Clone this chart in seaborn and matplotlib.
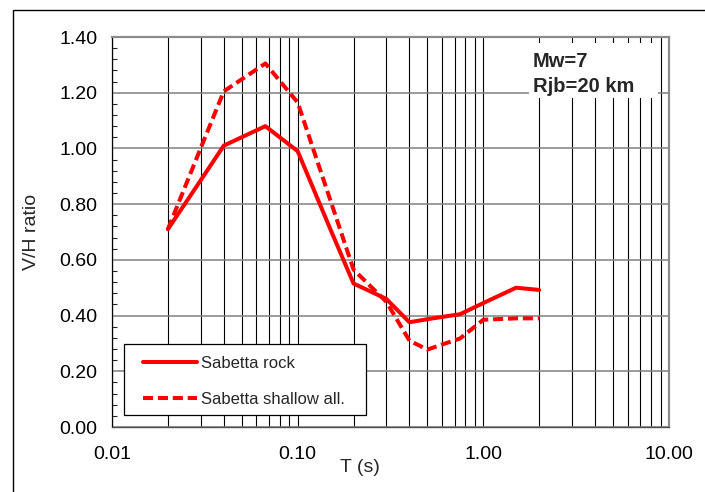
import numpy as np
import pandas as pd
import matplotlib
matplotlib.use("Agg")
import matplotlib.pyplot as plt
import matplotlib.ticker as mticker
from matplotlib.patches import Rectangle
import seaborn as sns

# Spectral periods (s) and V/H ratios for the two Sabetta models
periods = [0.02, 0.03, 0.04, 0.067, 0.1, 0.15, 0.2, 0.3, 0.4, 0.5, 0.75, 1.0, 1.5, 2.0]
vh_rock = [0.71, 0.885, 1.01, 1.08, 0.99, 0.71, 0.515, 0.46, 0.376, 0.387, 0.405, 0.445, 0.50, 0.492]
vh_shallow = [0.71, 1.00, 1.205, 1.305, 1.165, 0.814, 0.565, 0.45, 0.31, 0.278, 0.318, 0.385, 0.39, 0.39]
series_names = ["Sabetta rock", "Sabetta shallow all."]

x_tick_values = [0.01, 0.1, 1.0, 10.0]
x_tick_labels = ["0.01", "0.10", "1.00", "10.00"]
y_tick_values = [0.0, 0.2, 0.4, 0.6, 0.8, 1.0, 1.2, 1.4]
annotation_lines = ["Mw=7", "Rjb=20 km"]

df = pd.DataFrame({
    "T": periods * 2,
    "VH": vh_rock + vh_shallow,
    "model": [series_names[0]] * len(periods) + [series_names[1]] * len(periods),
})

sns.set_style("white")
plt.rcParams["font.family"] = ["Liberation Sans", "DejaVu Sans"]

W, H = 705, 492
fig = plt.figure(figsize=(W / 100, H / 100), dpi=100)
fig.patch.set_facecolor("white")

L, R, T, B = 112, 669, 37, 427
ax = fig.add_axes([L / W, 1 - B / H, (R - L) / W, (B - T) / H])


def ax_x(px):
    return (px - L) / (R - L)


def ax_y(py):
    return (B - py) / (B - T)


sns.lineplot(
    data=df, x="T", y="VH", hue="model", style="model",
    palette={series_names[0]: "#ff0000", series_names[1]: "#ff0000"},
    dashes={series_names[0]: "", series_names[1]: (2.5, 1.2)},
    linewidth=2.9, ax=ax, legend=True, zorder=5,
)

ax.set_xscale("log")
ax.set_xlim(0.01, 10)
ax.set_ylim(0, 1.4)

ax.set_xticks(x_tick_values)
ax.set_xticklabels(x_tick_labels)
ax.xaxis.set_minor_locator(mticker.LogLocator(base=10, subs=np.arange(2, 10), numticks=20))
ax.xaxis.set_minor_formatter(mticker.NullFormatter())
ax.set_yticks(y_tick_values)
ax.yaxis.set_major_formatter(mticker.FormatStrFormatter("%.2f"))
ax.yaxis.set_minor_locator(mticker.MultipleLocator(0.04))

ax.tick_params(axis="both", which="major", labelsize=14, colors="black")
ax.tick_params(axis="x", which="major", direction="out", length=4.3, width=0.8, pad=9.5)
ax.tick_params(axis="x", which="minor", length=0)
ax.tick_params(axis="y", which="major", direction="out", length=5, width=0.8, pad=5.5)
ax.tick_params(axis="y", which="minor", direction="in", length=3.5, width=0.8, left=True)

# Grid: black verticals at every log subdivision, grey horizontals at major steps
ax.grid(False)
ax.xaxis.grid(True, which="both", color="black", linewidth=0.8, zorder=1)
ax.yaxis.grid(True, which="major", color="#808080", linewidth=1.1, zorder=1)
ax.set_axisbelow(True)

for side in ["top", "right"]:
    ax.spines[side].set_color("#8c8c8c")
    ax.spines[side].set_linewidth(1.6)
ax.spines["left"].set_color("black")
ax.spines["left"].set_linewidth(0.9)
ax.spines["bottom"].set_color("#505050")
ax.spines["bottom"].set_linewidth(1.0)

ax.set_ylabel("V/H ratio", fontsize=14)
ax.yaxis.set_label_coords(ax_x(40), 0.5)
ax.set_xlabel("T (s)", fontsize=14)
ax.xaxis.set_label_coords(ax_x(360), ax_y(459))

# White panel with the scenario parameters
ax.add_patch(Rectangle((ax_x(529), ax_y(98)), ax_x(658) - ax_x(529), ax_y(43) - ax_y(98),
                       transform=ax.transAxes, facecolor="white", edgecolor="none", zorder=3))
for i, line in enumerate(annotation_lines):
    ax.text(ax_x(533), ax_y(67 + 25 * i), line,
            transform=ax.transAxes, fontsize=14.5, fontweight="bold",
            ha="left", va="baseline", zorder=4)

# Legend box with its own frame
ax.add_patch(Rectangle((ax_x(124), ax_y(415)), ax_x(366) - ax_x(124), ax_y(344) - ax_y(415),
                       transform=ax.transAxes, facecolor="white", edgecolor="black",
                       linewidth=0.9, zorder=8))
leg = ax.legend(
    loc="upper left", bbox_to_anchor=(ax_x(143), ax_y(356)),
    borderaxespad=0, borderpad=0, fontsize=12, frameon=False,
    handlelength=3.25, handletextpad=0.25, labelspacing=1.25, title=None,
)
leg.set_zorder(10)

# Outer frame of the figure
fig.add_artist(Rectangle((13 / W, -0.05), 1.1, 1 - 10 / H + 0.05,
                         transform=fig.transFigure, facecolor="none",
                         edgecolor="black", linewidth=1.0))

fig.savefig("out.png", dpi=100)
